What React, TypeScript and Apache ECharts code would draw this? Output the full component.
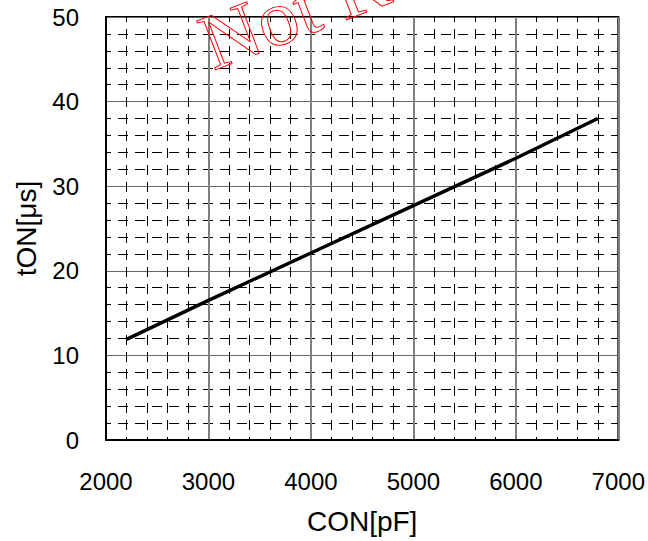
import React, { useEffect, useRef } from "react";
import * as echarts from "echarts";

const conPF = [2200, 3000, 4000, 5000, 6000, 6800];
const tOnUs = [11.9, 16.5, 22.1, 27.7, 33.3, 38.0];
const xTicks = { min: 2000, max: 7000, interval: 1000 };
const yTicks = { min: 0, max: 50, interval: 10 };
const watermark = "Not Recommended";

export default function App() {
  const ref = useRef<HTMLDivElement>(null);
  useEffect(() => {
    document.body.style.margin = "0";
    const chart = echarts.init(ref.current!, null, { renderer: "svg" });
    const font = "Liberation Sans, Arial, sans-serif";
    chart.setOption({
      animation: false,
      backgroundColor: "#fff",
      grid: {
        left: 106,
        right: 27,
        top: 17,
        bottom: 101,
        show: true,
        borderColor: "#000",
        borderWidth: 2,
        backgroundColor: "transparent",
      },
      xAxis: {
        type: "value",
        min: xTicks.min,
        max: xTicks.max,
        interval: xTicks.interval,
        name: "CON[pF]",
        nameLocation: "middle",
        nameGap: 67,
        nameTextStyle: { fontFamily: font, fontSize: 28, color: "#000" },
        axisLine: { show: true, lineStyle: { color: "#000", width: 2 } },
        axisTick: { show: false },
        axisLabel: {
          fontFamily: font,
          fontSize: 24,
          color: "#000",
          margin: 29,
          formatter: (v: number) => String(v),
        },
        splitLine: { show: true, lineStyle: { color: "#808080", width: 2 } },
        minorTick: { show: false, splitNumber: 5 },
        minorSplitLine: {
          show: true,
          lineStyle: { color: "#000", width: 1, type: [10, 7], dashOffset: 5 },
        },
      },
      yAxis: {
        type: "value",
        min: yTicks.min,
        max: yTicks.max,
        interval: yTicks.interval,
        name: "tON[μs]",
        nameLocation: "middle",
        nameGap: 66,
        nameTextStyle: { fontFamily: font, fontSize: 28, color: "#000" },
        axisLine: { show: true, lineStyle: { color: "#000", width: 2 } },
        axisTick: { show: false },
        axisLabel: { fontFamily: font, fontSize: 24, color: "#000", margin: 27 },
        splitLine: { show: true, lineStyle: { color: "#666", width: 1 } },
        minorTick: { show: false, splitNumber: 5 },
        minorSplitLine: {
          show: true,
          lineStyle: { color: "#000", width: 1, type: [10, 7], dashOffset: 5 },
        },
      },
      series: [
        {
          type: "line",
          data: conPF.map((x, i) => [x, tOnUs[i]]),
          showSymbol: false,
          symbol: "none",
          lineStyle: { color: "#000", width: 3.5 },
          z: 5,
        },
      ],
      graphic: [
        {
          type: "text",
          x: 218,
          y: 83,
          rotation: (21 * Math.PI) / 180,
          z: 100,
          style: {
            text: watermark,
            font: "80px 'Liberation Serif', 'Times New Roman', serif",
            fill: "transparent",
            stroke: "#ff0000",
            lineWidth: 1,
            textAlign: "left",
            textVerticalAlign: "bottom",
          },
        },
      ],
    });
    return () => chart.dispose();
  }, []);
  return <div ref={ref} style={{ width: 648, height: 541 }} />;
}
